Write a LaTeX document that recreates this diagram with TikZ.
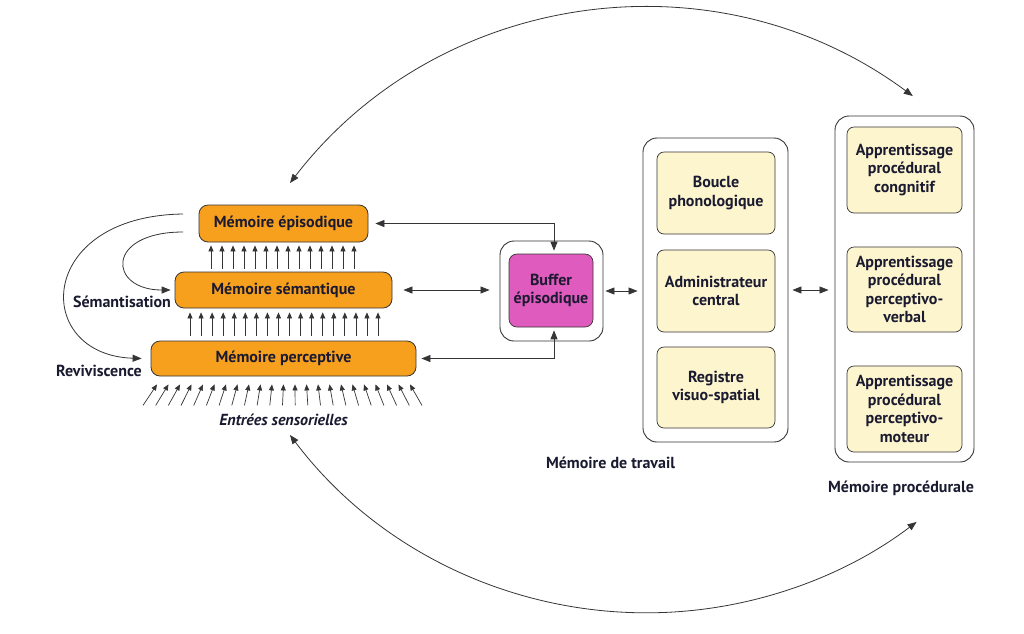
\documentclass[tikz,border=0pt]{standalone}
\usepackage{fontspec}
\setmainfont{PT Sans}
\usetikzlibrary{arrows.meta,calc}
\definecolor{orng}{HTML}{F7A01E}
\definecolor{mag}{HTML}{E05BBE}
\definecolor{yel}{HTML}{FDF5CE}
\definecolor{ink}{HTML}{1A1A30}
\definecolor{edge}{HTML}{353535}
\begin{document}
\begin{tikzpicture}[x=1pt,y=-1pt,
 every node/.style={font=\fontsize{16}{18.5}\selectfont\bfseries, text=ink, inner sep=0pt, align=center},
 obox/.style={draw=edge, fill=orng, rounded corners=9pt, line width=0.8pt},
 ybox/.style={draw=edge, fill=yel, rounded corners=7pt, line width=0.7pt, minimum width=118pt},
 grp/.style={draw=edge, rounded corners=14pt, line width=0.9pt},
 conn/.style={draw=edge, line width=0.8pt, {Triangle[length=9pt,width=7pt]}-{Triangle[length=9pt,width=7pt]}},
 one/.style={draw=edge, line width=0.8pt, -{Triangle[length=9pt,width=7pt]}},
 up/.style={draw=edge, line width=0.7pt, -{Triangle[length=6pt,width=5pt]}}]
\useasboundingbox[fill=white] (0,0) rectangle (1024,633);

% left stack
\node[obox, minimum width=169pt, minimum height=37pt] (epi) at (283.5,223.5) {Mémoire épisodique};
\node[obox, minimum width=217pt, minimum height=36pt] (sem) at (283.5,290) {Mémoire sémantique};
\node[obox, minimum width=265pt, minimum height=35pt] (per) at (283.5,358.5) {Mémoire perceptive};
\node (sema) at (122,302) {Sémantisation};
\node (rev) at (99,371) {Reviviscence};
\node[font=\fontsize{16}{18.5}\selectfont\bfseries\itshape] (ent) at (283.5,420) {Entrées sensorielles};

\foreach \i in {0,...,13}
  \draw[up] ($(sem.north)+(-72.5+11*\i,-3)$) -- ($(epi.south)+(-72.5+11*\i,3)$);
\foreach \i in {0,...,17}
  \draw[up] ($(per.north)+(-93.5+11.06*\i,-5)$) -- ($(sem.south)+(-93.5+11.06*\i,4)$);
\foreach \i in {0,...,22}
  \draw[up] ($(per.south)+(-140.5+12.68*\i,29)$) -- ($(per.south)+(-126.5+11.5*\i,8)$);

\coordinate (rs) at (183,214);
\coordinate (ss) at (183,232);
\draw[one] (rs) .. controls (35,216) and (32,355) .. ([xshift=-9pt]per.west);
\draw[one] (ss) .. controls (105,232) and (108,290) .. ([xshift=-4pt]sem.west);

% buffer
\node[grp, minimum width=103pt, minimum height=100pt] (bufo) at (551.5,291) {};
\node[draw=edge, fill=mag, rounded corners=8pt, line width=0.7pt, minimum width=84pt, minimum height=73pt] (buf) at (551,290.5) {Buffer\\épisodique};

% working memory
\node[grp, minimum width=145pt, minimum height=304pt] (mdt) at (715.5,290) {};
\node[ybox, minimum height=82pt] (bou) at (716,193) {Boucle\\phonologique};
\node[ybox, minimum height=82pt] (adm) at (716,291) {Administrateur\\central};
\node[ybox, minimum height=81pt] (reg) at (716,387.5) {Registre\\visuo-spatial};
\node (mdtl) at (610.5,463) {Mémoire de travail};

% procedural memory
\node[grp, minimum width=139pt, minimum height=346pt] (mp) at (904.5,289) {};
\node[ybox, minimum width=115pt, minimum height=86pt] (ap1) at (904.5,170) {Apprentissage\\procédural\\congnitif};
\node[ybox, minimum width=115pt, minimum height=85pt] (ap2) at (904.5,289.5) {Apprentissage\\procédural\\perceptivo-\\verbal};
\node[ybox, minimum width=115pt, minimum height=86pt] (ap3) at (904.5,409) {Apprentissage\\procédural\\perceptivo-\\moteur};
\node (mpl) at (901,488) {Mémoire procédurale};

% connectors
\draw[conn] ([xshift=7pt]epi.east) -| ([xshift=3pt,yshift=3pt]buf.north);
\draw[conn] ([xshift=5pt]per.east) -| ([xshift=3pt,yshift=-3pt]buf.south);
\draw[conn] ([xshift=11pt]sem.east) -- ([xshift=-10pt]bufo.west |- sem.east);
\draw[conn] ([xshift=2pt]bufo.east) -- ([xshift=-5pt]mdt.west |- bufo.east);
\draw[conn] ([xshift=4pt]mdt.east) -- ([xshift=-6pt]mp.west |- mdt.east);

% big arcs
\coordinate (ta) at (290,183);
\coordinate (ba) at (290,435);
\draw[conn] (ta) arc[start angle=-142.4, end angle=-53.5, radius=449];
\draw[conn] (ba) arc[start angle=143, end angle=52.8, radius=446.5];
\end{tikzpicture}
\end{document}
